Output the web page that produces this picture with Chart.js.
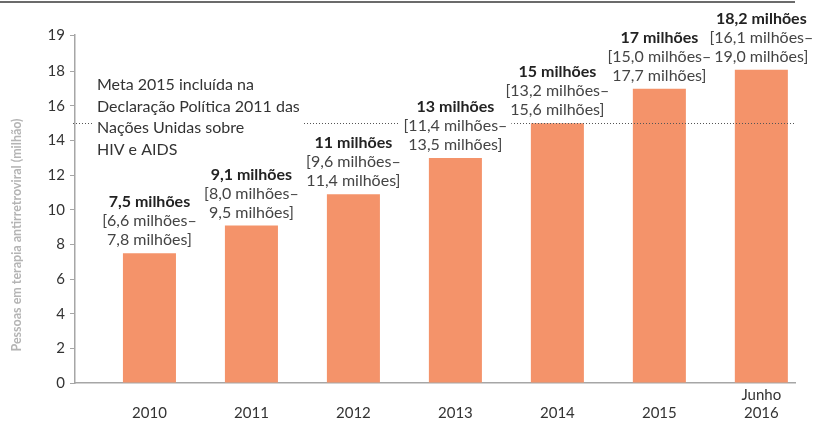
<!DOCTYPE html>
<html>
<head>
<meta charset="utf-8">
<script src="https://cdn.jsdelivr.net/npm/chart.js@4"></script>
<style>
  body { margin: 0; background: #fff; }
  canvas { display: block; }
</style>
</head>
<body>
<canvas id="tarv" width="815" height="426"></canvas>
<script>
// anos (a última categoria tem duas linhas)
const categories = ['2010', '2011', '2012', '2013', '2014', '2015', 'Junho 2016']
const pessoas = [7.5, 9.1, 10.9, 13, 15, 17, 18.1]
const rotulos = ['7,5 milhões', '9,1 milhões', '11 milhões', '13 milhões', '15 milhões', '17 milhões', '18,2 milhões']
const intervalos = [
    ['[6,6 milhões–', '7,8 milhões]'],
    ['[8,0 milhões–', '9,5 milhões]'],
    ['[9,6 milhões–', '11,4 milhões]'],
    ['[11,4 milhões–', '13,5 milhões]'],
    ['[13,2 milhões–', '15,6 milhões]'],
    ['[15,0 milhões–', '17,7 milhões]'],
    ['[16,1 milhões–', '19,0 milhões]'],
]
const yTickValues = [0, 2, 4, 6, 8, 10, 12, 14, 16, 18, 20.1]
const yTickLabels = ['0', '2', '4', '6', '8', '10', '12', '14', '16', '18', '19']
const meta2015 = 15
const metaTexto = ['Meta 2015 incluída na', 'Declaração Política 2011 das', 'Nações Unidas sobre', 'HIV e AIDS']
const tituloY = 'Pessoas em terapia antirretroviral (milhão)'

const FONT = 'Lato, "Open Sans", sans-serif'

function textoComFundo(ctx, txt, x, y, font, color) {
    ctx.font = font
    const w = ctx.measureText(txt).width
    ctx.fillStyle = '#fff'
    ctx.fillRect(x - w / 2 - 4, y - 9, w + 8, 19)
    ctx.fillStyle = color
    ctx.fillText(txt, x, y)
}

const extras = {
    id: 'extras',
    beforeDraw(chart) {
        const ctx = chart.ctx
        ctx.save()
        // linha superior
        ctx.strokeStyle = '#6b6b6b'
        ctx.lineWidth = 2
        ctx.beginPath()
        ctx.moveTo(0, 2)
        ctx.lineTo(chart.chartArea.right, 2)
        ctx.stroke()
        // título do eixo y
        ctx.translate(17, 235)
        ctx.rotate(-Math.PI / 2)
        ctx.font = 'bold 12.5px ' + FONT
        ctx.fillStyle = '#b4b4b4'
        ctx.textAlign = 'center'
        ctx.textBaseline = 'middle'
        ctx.fillText(tituloY, 0, 0)
        ctx.restore()
    },
    afterDatasetsDraw(chart) {
        const ctx = chart.ctx
        const area = chart.chartArea
        const y = chart.scales.y
        const yMeta = y.getPixelForValue(meta2015)
        ctx.save()
        // linha pontilhada da meta
        ctx.strokeStyle = '#555'
        ctx.lineWidth = 1
        ctx.setLineDash([1, 2])
        ctx.beginPath()
        ctx.moveTo(area.left - 2, Math.round(yMeta) + 0.5)
        ctx.lineTo(area.right, Math.round(yMeta) + 0.5)
        ctx.stroke()
        ctx.setLineDash([])

        // bloco de texto da meta
        ctx.textBaseline = 'middle'
        ctx.textAlign = 'left'
        ctx.font = '16px ' + FONT
        const bx = area.left + 22
        const by = yMeta - 38
        const bw = Math.max(...metaTexto.map(t => ctx.measureText(t).width))
        ctx.fillStyle = '#fff'
        ctx.fillRect(bx - 4, by - 11, bw + 8, metaTexto.length * 21.5)
        ctx.fillStyle = '#333'
        metaTexto.forEach((t, i) => ctx.fillText(t, bx, by + i * 21.5))

        // rótulos das barras
        ctx.textAlign = 'center'
        chart.getDatasetMeta(0).data.forEach((bar, i) => {
            textoComFundo(ctx, rotulos[i], bar.x, bar.y - 51, 'bold 16px ' + FONT, '#222')
            textoComFundo(ctx, intervalos[i][0], bar.x, bar.y - 32, '16px ' + FONT, '#444')
            textoComFundo(ctx, intervalos[i][1], bar.x, bar.y - 13, '16px ' + FONT, '#444')
        })
        ctx.restore()
    }
}

const tarv = new Chart(
    document.getElementById('tarv'),
    {
        type: 'bar',
        data: {
            datasets: [{
                data: pessoas.map((v, i) => ({ x: i, y: v })),
                backgroundColor: '#F4936A',
                borderWidth: 0,
                categoryPercentage: 1,
                barPercentage: 0.52,
            }]
        },
        options: {
            responsive: false,
            animation: false,
            layout: { padding: { top: 35, right: 20, left: 0, bottom: 0 } },
            plugins: {
                legend: { display: false },
                tooltip: { enabled: false },
            },
            scales: {
                x: {
                    type: 'linear',
                    min: -0.73,
                    max: 6.33,
                    offset: false,
                    grid: { display: false, drawTicks: false },
                    border: { display: true, color: '#a6a6a6', width: 1.5 },
                    afterBuildTicks: (scale) => {
                        scale.ticks = categories.map((c, i) => ({ value: i }))
                    },
                    afterFit: (scale) => { scale.height = 43 },
                    ticks: {
                        autoSkip: false,
                        maxRotation: 0,
                        padding: 3,
                        color: '#333',
                        font: { family: FONT, size: 15, lineHeight: 1.2 },
                        callback: (value) => {
                            const parts = categories[value].split(' ')
                            return parts.length > 1 ? parts : ['', parts[0]]
                        }
                    }
                },
                y: {
                    min: 0,
                    max: 20.1,
                    grid: { drawOnChartArea: false, drawTicks: true, tickLength: 5, color: '#a6a6a6' },
                    border: { display: true, color: '#a6a6a6', width: 1.5 },
                    afterBuildTicks: (scale) => {
                        scale.ticks = yTickValues.map(v => ({ value: v }))
                    },
                    afterFit: (scale) => { scale.width = 75 },
                    ticks: {
                        padding: 5,
                        color: '#333',
                        font: { family: FONT, size: 15 },
                        callback: (value, index) => yTickLabels[index]
                    }
                }
            }
        },
        plugins: [extras]
    }
)
</script>
</body>
</html>
